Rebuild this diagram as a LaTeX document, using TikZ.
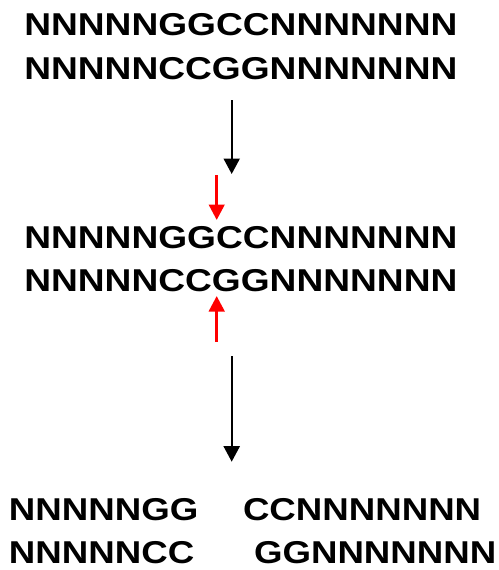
\documentclass[tikz,border=0pt]{standalone}
\usepackage{fontspec}
\setmainfont{Liberation Sans}
\usetikzlibrary{arrows.meta}
\newcommand{\seq}[1]{\scalebox{1.175}[1]{#1}}
\newcommand{\seqb}[1]{\scalebox{1.16}[1]{#1}}
\tikzset{
  seqtext/.style={anchor=base west, inner sep=0pt, outer sep=0pt,
    font=\fontsize{31.6}{36}\selectfont\bfseries},
  blackarrow/.style={draw=black, line width=2.2pt, -{Triangle[length=15.5pt,width=16pt]}},
  redarrow/.style={draw=red, line width=3pt, -{Triangle[length=15.5pt,width=15.5pt]}}
}
\begin{document}
\begin{tikzpicture}[x=1pt,y=-1pt]
\useasboundingbox (0,0) rectangle (498,570);
% top block
\node[seqtext] (t1) at (24.3,35.5) {\seq{NNNNNGGCCNNNNNNN}};
\node[seqtext] (t2) at (24.3,79) {\seq{NNNNNCCGGNNNNNNN}};
% middle block
\node[seqtext] (m1) at (24.3,248.3) {\seq{NNNNNGGCCNNNNNNN}};
\node[seqtext] (m2) at (24.3,291.7) {\seq{NNNNNCCGGNNNNNNN}};
% bottom block
\node[seqtext] (b1a) at (9,520) {\seqb{NNNNNGG}};
\node[seqtext] (b1b) at (243,520) {\seqb{CCNNNNNNN}};
\node[seqtext] (b2a) at (9,563.3) {\seqb{NNNNNCC}};
\node[seqtext] (b2b) at (254,563.3) {\seqb{GGNNNNNNN}};
% arrow end points
\coordinate (a1s) at (231.7,100);
\coordinate (a1e) at (231.7,174);
\coordinate (r1s) at (216.7,175);
\coordinate (r1e) at (216.7,220);
\coordinate (r2s) at (216.7,341.7);
\coordinate (r2e) at (216.7,296);
\coordinate (a2s) at (231.7,356);
\coordinate (a2e) at (231.7,461.7);
\draw[blackarrow] (a1s) -- (a1e);
\draw[redarrow] (r1s) -- (r1e);
\draw[redarrow] (r2s) -- (r2e);
\draw[blackarrow] (a2s) -- (a2e);
\end{tikzpicture}
\end{document}
